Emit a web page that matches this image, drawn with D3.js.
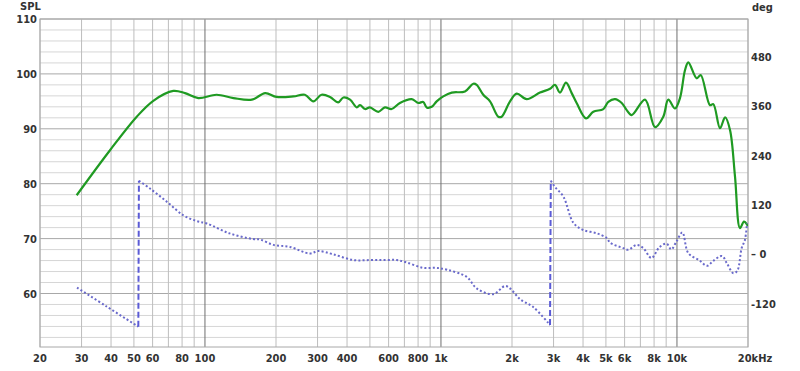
<!DOCTYPE html>
<html>
<head>
<meta charset="utf-8">
<script src="https://cdn.jsdelivr.net/npm/d3@7/dist/d3.min.js"></script>
<style>
  body { margin: 0; background: #fff; }
  text { font-family: "DejaVu Sans Condensed", "DejaVu Sans", sans-serif; font-size: 11px; font-weight: bold; fill: #333; }
</style>
</head>
<body>
<svg id="svg" width="800" height="371"></svg>
<script>
// SPL magnitude, [Hz, dB]
const splData = [
  [28.6, 77.9], [39.6, 86.1], [51.4, 92.2], [60.4, 95.1], [73.4, 96.9], [82.3, 96.5],
  [93.7, 95.6], [112, 96.2], [132, 95.6], [158, 95.3], [180, 96.5], [201, 95.8],
  [237, 95.9], [265, 96.2], [288, 95.0], [312, 96.2], [339, 95.8], [367, 94.8],
  [386, 95.7], [412, 95.3], [440, 93.9], [454, 94.3], [477, 93.6], [500, 93.9],
  [543, 93.1], [579, 93.9], [618, 93.6], [670, 94.7], [752, 95.4], [802, 94.7],
  [841, 94.9], [870, 93.9], [914, 94.0], [959, 95.0], [1023, 95.9], [1111, 96.6],
  [1264, 96.8], [1371, 98.2], [1417, 98.0], [1511, 96.2], [1614, 95.0], [1750, 92.2],
  [1808, 92.2], [1962, 95.0], [2094, 96.4], [2308, 95.4], [2628, 96.6], [2898, 97.3],
  [3042, 98.0], [3194, 96.6], [3386, 98.4], [3581, 96.5], [3758, 94.7], [4118, 91.9],
  [4422, 93.1], [4876, 93.6], [5118, 94.9], [5464, 95.4], [5834, 94.7], [6126, 93.4],
  [6428, 92.5], [7322, 95.3], [8072, 90.3], [8750, 92.2], [9190, 95.3], [9810, 93.7],
  [10300, 95.6], [10820, 100.7], [11170, 102.1], [12120, 99.2], [12610, 99.8],
  [13800, 94.3], [14260, 94.5], [15220, 90.1], [15990, 92.1], [16780, 89.8],
  [17620, 81.3], [18500, 71.9], [19230, 73.1], [20000, 72.3]
];

// Phase, [Hz, deg] (wrapped to +-180)
const phaseData = [
  [28.7, -81], [38.3, -127], [52.2, -176],
  [52.5, 179], [58.5, 160], [68.9, 128], [81, 95], [92, 81], [101.8, 75], [127, 51],
  [160, 37], [171, 36], [195, 23], [229, 18], [278, 2], [302, 8], [349, 0], [426, -14],
  [500, -14], [571, -14], [650, -14], [717, -20], [841, -33], [959, -33], [1067, -38],
  [1286, -55], [1417, -83], [1664, -97], [1868, -77], [1962, -83], [2171, -110],
  [2458, -128], [2898, -172],
  [2920, 179], [3042, 164], [3304, 140], [3646, 76], [4016, 59], [4580, 51], [5050, 39],
  [5212, 28], [5930, 15], [6220, 11], [6750, 23], [7200, 15], [7800, -9], [8420, 17],
  [9040, 26], [9460, 12], [9950, 31], [10540, 53], [11170, 3], [12460, -15], [13400, -28],
  [14260, -16], [15520, -4], [16280, -22], [17340, -46], [18020, -40], [18800, 15],
  [19410, 35], [19800, 75]
];

const gridFreqs = [20, 30, 40, 50, 60, 70, 80, 90, 100, 200, 300, 400, 500, 600, 700, 800, 900,
  1000, 2000, 3000, 4000, 5000, 6000, 7000, 8000, 9000, 10000, 20000];
const labelFreqs = [20, 30, 40, 50, 60, 80, 100, 200, 300, 400, 600, 800, 1000, 2000, 3000,
  4000, 5000, 6000, 8000, 10000, 20000];
const splTicks = [60, 70, 80, 90, 100, 110];
const splMinor = d3.range(52, 110, 2);
const degTicks = [480, 360, 240, 120, 0, -120];
const degLabels = ["480", "360", "240", "120", "– 0", "-120"];

const attr = { left: 40, right: 748, top: 19, bottom: 347 };

const svg = d3.select("svg#svg");

const x = d3.scaleLog().domain([20, 20000]).range([attr.left, attr.right]);
const y = d3.scaleLinear().domain([60, 110]).range([293.5, attr.top]);
const yDeg = d3.scaleLinear().domain([0, 480]).range([254.3, 57]);

svg.append("clipPath").attr("id", "plotClip")
  .append("rect")
  .attr("x", attr.left).attr("y", attr.top)
  .attr("width", attr.right - attr.left).attr("height", attr.bottom - attr.top);

const grid = svg.append("g");

// horizontal grid
grid.selectAll("line.minorH")
  .data(splMinor.filter(d => d % 10 != 0))
  .enter().append("line")
  .attr("x1", attr.left).attr("x2", attr.right)
  .attr("y1", d => y(d)).attr("y2", d => y(d))
  .attr("stroke", "#d6d6d6").attr("stroke-width", 1);

grid.selectAll("line.majorH")
  .data(splTicks)
  .enter().append("line")
  .attr("x1", attr.left).attr("x2", attr.right)
  .attr("y1", d => y(d)).attr("y2", d => y(d))
  .attr("stroke", "#a8a8a8").attr("stroke-width", 1);

// vertical grid
grid.selectAll("line.v")
  .data(gridFreqs)
  .enter().append("line")
  .attr("x1", d => x(d)).attr("x2", d => x(d))
  .attr("y1", attr.top).attr("y2", attr.bottom)
  .attr("stroke", d => [100, 1000, 10000].includes(d) ? "#6e6e6e" : "#bdbdbd")
  .attr("stroke-width", 1);

grid.append("rect")
  .attr("x", attr.left).attr("y", attr.top)
  .attr("width", attr.right - attr.left).attr("height", attr.bottom - attr.top)
  .attr("fill", "none").attr("stroke", "#a8a8a8");

// SPL curve
const splLine = d3.line()
  .x(d => x(d[0]))
  .y(d => y(d[1]))
  .curve(d3.curveCatmullRom.alpha(0.5));

svg.append("path")
  .attr("clip-path", "url(#plotClip)")
  .attr("d", splLine(splData))
  .attr("fill", "none")
  .attr("stroke", "#1f9a22")
  .attr("stroke-width", 2.2);

// phase: split into wrapped segments
let segments = [[phaseData[0]]];
let jumps = [];
for (let i = 1; i < phaseData.length; i++) {
  let prev = phaseData[i - 1], cur = phaseData[i];
  if (Math.abs(cur[1] - prev[1]) > 180) {
    jumps.push([prev, cur]);
    segments.push([cur]);
  } else {
    segments[segments.length - 1].push(cur);
  }
}

const phaseLine = d3.line()
  .x(d => x(d[0]))
  .y(d => yDeg(d[1]))
  .curve(d3.curveCatmullRom.alpha(0.5));

const phaseG = svg.append("g").attr("clip-path", "url(#plotClip)");

phaseG.selectAll("path.phase")
  .data(segments)
  .enter().append("path")
  .attr("d", phaseLine)
  .attr("fill", "none")
  .attr("stroke", "#6a6acb")
  .attr("stroke-width", 2)
  .attr("stroke-dasharray", "2,2.2");

phaseG.selectAll("line.jump")
  .data(jumps)
  .enter().append("line")
  .attr("x1", d => x(d[0][0])).attr("y1", d => yDeg(d[0][1]))
  .attr("x2", d => x(d[1][0])).attr("y2", d => yDeg(d[1][1]))
  .attr("stroke", "#5b5bd6")
  .attr("stroke-width", 2)
  .attr("stroke-dasharray", "6,3");

// left axis labels
svg.selectAll("text.spl")
  .data(splTicks)
  .enter().append("text")
  .attr("x", 37)
  .attr("y", d => y(d) + 4)
  .attr("text-anchor", "end")
  .text(d => d);

svg.append("text").attr("x", 20).attr("y", 10).text("SPL");

// right axis labels
svg.selectAll("text.deg")
  .data(degTicks)
  .enter().append("text")
  .attr("x", 751)
  .attr("y", d => yDeg(d) + 4)
  .attr("text-anchor", "start")
  .text((d, i) => degLabels[i]);

svg.append("text").attr("x", 752).attr("y", 11).text("deg");

// bottom labels
const fmt = f => f >= 1000 ? (f / 1000) + "k" : String(f);
svg.selectAll("text.freq")
  .data(labelFreqs)
  .enter().append("text")
  .attr("x", d => x(d))
  .attr("y", 362)
  .attr("text-anchor", "middle")
  .text(fmt);

// append unit after last label
let last = svg.selectAll("text").filter(function() { return this.textContent == "20k"; });
let w = last.node().getComputedTextLength();
svg.append("text")
  .attr("x", x(20000) + w / 2)
  .attr("y", 362)
  .text("Hz");
</script>
</body>
</html>
